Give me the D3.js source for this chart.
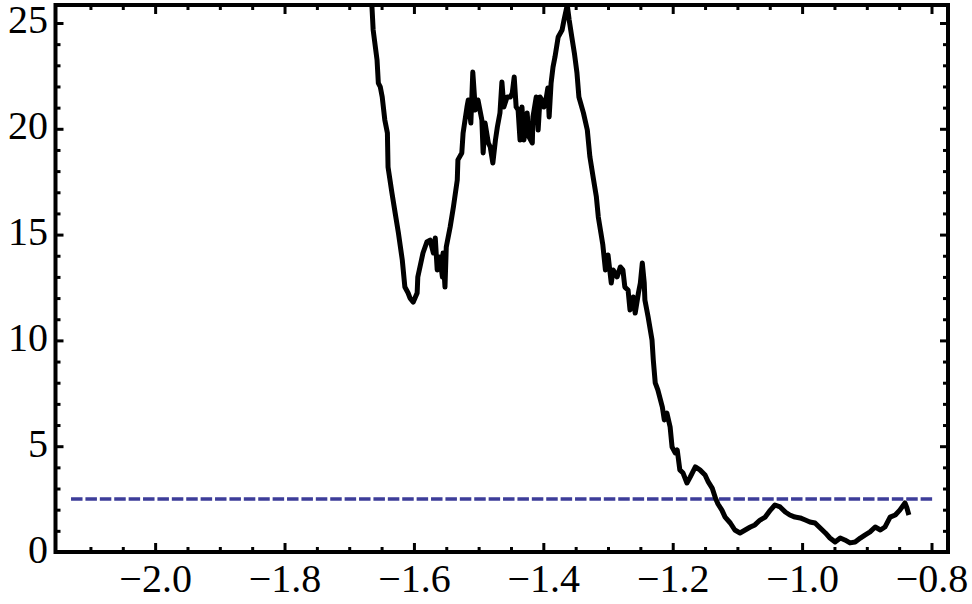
<!DOCTYPE html>
<html>
<head>
<meta charset="utf-8">
<script src="https://cdn.jsdelivr.net/npm/d3@7"></script>
<style>
  body { margin: 0; background: #fff; }
  svg { display: block; }
  .axis text { font-family: "Liberation Serif", "Times New Roman", serif; font-size: 40px; fill: #000; }
  .axis line { stroke: #000; stroke-width: 3; }
</style>
</head>
<body>
<svg id="chart" width="972" height="604"></svg>
<script>
// curve samples
const xValues = [
  -1.666, -1.665, -1.663, -1.657, -1.655, -1.652, -1.649, -1.645, -1.641, -1.640,
  -1.634, -1.629, -1.624, -1.618, -1.614, -1.609, -1.606, -1.601, -1.595, -1.594,
  -1.586, -1.580, -1.575, -1.570, -1.567, -1.564, -1.560, -1.556, -1.555, -1.552,
  -1.550, -1.544, -1.539, -1.533, -1.532, -1.526, -1.524, -1.518, -1.516, -1.512,
  -1.509, -1.505, -1.501, -1.495, -1.493, -1.490, -1.485, -1.482, -1.478, -1.474,
  -1.471, -1.467, -1.464, -1.461, -1.456, -1.451, -1.448, -1.445, -1.442, -1.439,
  -1.436, -1.433, -1.430, -1.425, -1.422, -1.417, -1.416, -1.411, -1.408, -1.405,
  -1.402, -1.399, -1.396, -1.393, -1.391, -1.388, -1.385, -1.382, -1.377, -1.371,
  -1.368, -1.363, -1.360, -1.356, -1.352, -1.348, -1.345, -1.338, -1.332, -1.328,
  -1.323, -1.318, -1.315, -1.311, -1.308, -1.304, -1.300, -1.295, -1.292, -1.286,
  -1.281, -1.277, -1.274, -1.269, -1.266, -1.261, -1.258, -1.253, -1.250, -1.247,
  -1.244, -1.243, -1.238, -1.232, -1.230, -1.227, -1.223, -1.216, -1.213, -1.209,
  -1.204, -1.201, -1.196, -1.193, -1.189, -1.184, -1.178, -1.173, -1.165, -1.158,
  -1.150, -1.145, -1.139, -1.134, -1.130, -1.124, -1.119, -1.111, -1.104, -1.096,
  -1.088, -1.080, -1.073, -1.065, -1.057, -1.049, -1.042, -1.034, -1.026, -1.019,
  -1.011, -1.003, -0.995, -0.988, -0.980, -0.972, -0.964, -0.957, -0.949, -0.941,
  -0.934, -0.926, -0.918, -0.910, -0.903, -0.895, -0.887, -0.879, -0.872, -0.864,
  -0.856, -0.849, -0.841, -0.838, -0.835
];
const yValues = [
  27.0, 25.85, 24.67, 23.25, 22.16, 21.98, 21.50, 20.42, 19.80, 18.19,
  16.97, 16.02, 15.08, 13.80, 12.52, 12.24, 12.00, 11.81, 12.24, 13.00,
  14.13, 14.65, 14.74, 14.13, 14.84, 13.33, 13.94, 13.00, 14.13, 12.52,
  14.41, 15.36, 16.30, 17.58, 18.53, 18.86, 19.80, 21.03, 21.36, 20.27,
  22.68, 20.89, 21.36, 20.42, 18.86, 20.27, 19.33, 19.14, 18.38, 19.47,
  20.09, 20.75, 22.21, 21.03, 21.50, 21.50, 21.69, 22.45, 21.03, 20.89,
  19.47, 21.03, 19.47, 20.75, 19.61, 19.33, 20.56, 21.50, 19.94, 21.50,
  21.36, 21.03, 21.36, 21.93, 20.56, 22.16, 22.92, 23.39, 24.34, 24.67,
  25.14, 25.85, 25.14, 24.34, 23.58, 22.64, 21.50, 20.75, 19.94, 18.67,
  17.72, 16.78, 15.83, 15.08, 14.51, 13.33, 14.04, 12.71, 13.33, 13.00,
  13.47, 13.33, 12.52, 12.38, 11.44, 12.05, 11.29, 12.24, 12.71, 13.66,
  12.71, 11.91, 11.11, 10.02, 9.07, 7.99, 7.66, 6.85, 6.24, 6.57,
  5.91, 4.96, 4.68, 4.82, 3.88, 3.73, 3.26, 3.54, 4.02, 3.88,
  3.64, 3.31, 3.02, 2.55, 2.27, 1.98, 1.65, 1.37, 1.04, 0.90,
  1.04, 1.18, 1.28, 1.51, 1.65, 1.98, 2.22, 2.13, 1.89, 1.75,
  1.65, 1.61, 1.51, 1.42, 1.37, 1.13, 0.90, 0.66, 0.47, 0.66,
  0.57, 0.43, 0.47, 0.66, 0.80, 0.95, 1.18, 1.04, 1.18, 1.65,
  1.75, 1.98, 2.32, 2.08, 1.75
];

// dashed reference level and where it runs
const refLevel = 2.5;
const refSpan = [-2.13, -0.798];

// tick labels
const xMajorTicks = [-2.0, -1.8, -1.6, -1.4, -1.2, -1.0, -0.8];
const yMajorTicks = [0, 5, 10, 15, 20, 25];

const xDomain = [-2.154, -0.7745];
const yDomain = [0, 25.85];

// minor ticks every 0.05 on x and every 1 on y
const xMinorTicks = d3.range(-42, -15)
  .map((i) => i * 0.05)
  .filter((v) => Math.abs(Math.round(v * 5) - v * 5) > 1e-6);
const yMinorTicks = d3.range(1, 26).filter((v) => v % 5 !== 0);

const svg = d3.select("#chart");
const plotLeft = 55.5, plotRight = 948, plotTop = 5, plotBottom = 552;

const x = d3.scaleLinear().domain(xDomain).range([plotLeft, plotRight]);
const y = d3.scaleLinear().domain(yDomain).range([plotBottom, plotTop]);

svg.append("defs")
  .append("clipPath")
  .attr("id", "plot-clip")
  .append("rect")
  .attr("x", plotLeft)
  .attr("y", plotTop)
  .attr("width", plotRight - plotLeft)
  .attr("height", plotBottom - plotTop);

// dashed level line
svg.append("line")
  .attr("x1", x(refSpan[0]))
  .attr("x2", x(refSpan[1]))
  .attr("y1", y(refLevel))
  .attr("y2", y(refLevel))
  .attr("stroke", "#3d3d99")
  .attr("stroke-width", 3.5)
  .attr("stroke-dasharray", "11.5,2.9");

// the black curve
const line = d3.line()
  .x((d, i) => x(xValues[i]))
  .y((d, i) => y(yValues[i]));

svg.append("path")
  .datum(xValues)
  .attr("clip-path", "url(#plot-clip)")
  .attr("d", line)
  .attr("fill", "none")
  .attr("stroke", "#000")
  .attr("stroke-width", 5)
  .attr("stroke-linejoin", "round");

// axes: ticks point inward from the frame
function addAxis(axis, tx, ty) {
  const g = svg.append("g")
    .attr("class", "axis")
    .attr("transform", "translate(" + tx + "," + ty + ")")
    .call(axis);
  g.select(".domain").remove();
  return g;
}

addAxis(d3.axisBottom(x).tickValues(xMajorTicks).tickSize(-9)
  .tickPadding(11.6).tickFormat(d3.format(".1f")), 0, plotBottom);
addAxis(d3.axisBottom(x).tickValues(xMinorTicks).tickSize(-5).tickFormat(""), 0, plotBottom);
addAxis(d3.axisTop(x).tickValues(xMajorTicks).tickSize(-9).tickFormat(""), 0, plotTop);
addAxis(d3.axisTop(x).tickValues(xMinorTicks).tickSize(-5).tickFormat(""), 0, plotTop);

addAxis(d3.axisLeft(y).tickValues(yMajorTicks).tickSize(-8)
  .tickPadding(7.5).tickFormat(d3.format("d")), plotLeft, 0)
  .selectAll("text").attr("dy", "0.25em");
addAxis(d3.axisLeft(y).tickValues(yMinorTicks).tickSize(-5).tickFormat(""), plotLeft, 0);
addAxis(d3.axisRight(y).tickValues(yMajorTicks).tickSize(-8).tickFormat(""), plotRight, 0);
addAxis(d3.axisRight(y).tickValues(yMinorTicks).tickSize(-5).tickFormat(""), plotRight, 0);

// frame
svg.append("rect")
  .attr("x", plotLeft)
  .attr("y", plotTop)
  .attr("width", plotRight - plotLeft)
  .attr("height", plotBottom - plotTop)
  .attr("fill", "none")
  .attr("stroke", "#000")
  .attr("stroke-width", 4);
</script>
</body>
</html>
